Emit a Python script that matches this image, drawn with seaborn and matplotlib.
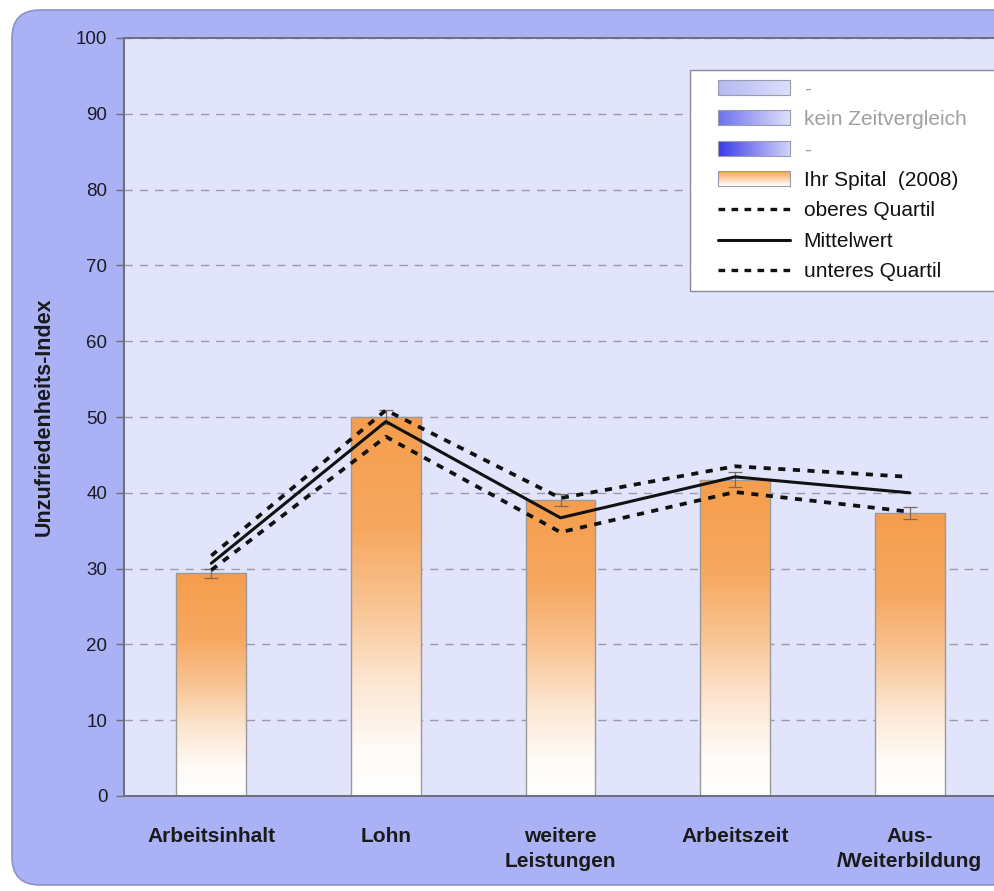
import numpy as np
import pandas as pd
import matplotlib
matplotlib.use("Agg")
import matplotlib.pyplot as plt
import seaborn as sns
from matplotlib.patches import Rectangle, FancyBboxPatch, Patch
from matplotlib.lines import Line2D
from matplotlib.legend_handler import HandlerBase
from matplotlib.colors import to_rgb

# ---------------- data ----------------
categories = ["Arbeitsinhalt", "Lohn", "weitere\nLeistungen", "Arbeitszeit", "Aus-\n/Weiterbildung"]
spital_2008 = [29.4, 50.0, 39.1, 41.7, 37.3]
spital_err = [0.6, 0.9, 0.8, 1.0, 0.8]
oberes_quartil = [31.7, 50.9, 39.3, 43.5, 42.1]
mittelwert = [30.7, 49.4, 36.7, 42.1, 40.0]
unteres_quartil = [29.8, 47.4, 34.8, 40.1, 37.5]
yticks = [0, 10, 20, 30, 40, 50, 60, 70, 80, 90, 100]
legend_labels = ["-", "kein Zeitvergleich", "-", "Ihr Spital  (2008)",
                 "oberes Quartil", "Mittelwert", "unteres Quartil"]
ylabel = "Unzufriedenheits-Index"

# ---------------- style ----------------
sns.set_theme(style="white")
plt.rcParams['font.family'] = ['Liberation Sans', 'DejaVu Sans']

PANEL = "#abb1f5"
AXBG = "#e1e4fb"
ORANGE = "#f59d4c"
WHITE = "#ffffff"

fig = plt.figure(figsize=(9.95, 8.91), dpi=100)
fig.patch.set_facecolor("white")

panel = FancyBboxPatch((0.12, 0.06), 10.5, 8.75,
                       boxstyle="round,pad=0,rounding_size=0.28",
                       transform=fig.dpi_scale_trans,
                       facecolor=PANEL, edgecolor="#8d92c8", linewidth=1.2, zorder=-5)
fig.patches.append(panel)

ax = fig.add_axes([124 / 995, 1 - 796 / 891, 873 / 995, (796 - 38) / 891])
ax.set_zorder(1)
ax.set_facecolor(AXBG)

df = pd.DataFrame({"cat": categories, "val": spital_2008})
sns.barplot(data=df, x="cat", y="val", ax=ax, width=0.4, color=ORANGE,
            edgecolor="#9a9a9a", linewidth=1.0, zorder=2)

# gradient fill for each bar
c_top = np.array(to_rgb(ORANGE))
c_bot = np.array(to_rgb(WHITE))
tt = np.linspace(0, 1, 256)
f = np.interp(tt, [0, 0.12, 0.3, 0.5, 0.7, 1.0], [0, 0.04, 0.25, 0.6, 0.88, 1.0])
img = c_bot[None, None, :] + (c_top - c_bot)[None, None, :] * f[:, None, None]
for p in list(ax.patches):
    x0, y0 = p.get_x(), p.get_y()
    w, h = p.get_width(), p.get_height()
    p.set_facecolor("none")
    im = ax.imshow(img, extent=[x0, x0 + w, y0, y0 + h], origin="lower",
                   aspect="auto", zorder=1.9, interpolation="bilinear")
    im.set_clip_path(p)

xpos = np.arange(len(categories))
ax.errorbar(xpos, spital_2008, yerr=spital_err, fmt="none", ecolor="#7a6a60",
            elinewidth=0.9, capsize=5, capthick=0.9, zorder=3)

dash = (1.9, 2.0)
sns.lineplot(x=xpos, y=oberes_quartil, ax=ax, color="#111111", linewidth=2.7, zorder=4)
ax.lines[-1].set_dashes(dash)
sns.lineplot(x=xpos, y=mittelwert, ax=ax, color="#111111", linewidth=2.2, zorder=4)
sns.lineplot(x=xpos, y=unteres_quartil, ax=ax, color="#111111", linewidth=2.7, zorder=4)
ax.lines[-1].set_dashes(dash)

ax.set_xlim(-0.5, len(categories) - 0.5)
ax.set_ylim(0, 100)
ax.set_yticks(yticks)
ax.set_yticklabels([str(v) for v in yticks], fontsize=13.5, color="#1a1a24")
ax.set_xticks(xpos)
ax.set_xticklabels(categories, fontsize=15, fontweight="bold", color="#1a1a1a",
                   linespacing=1.45)
ax.set_xticks(np.arange(-0.5, len(categories)), minor=True)
ax.tick_params(axis="x", which="major", length=0, pad=22)
ax.tick_params(axis="x", which="minor", length=6, color="#707070", width=1, direction="out")
ax.tick_params(axis="y", length=6, color="#707070", width=1, direction="out", pad=6, left=True)
ax.set_xlabel("")
ax.set_ylabel(ylabel, fontsize=15.5, fontweight="bold", color="#1a1a1a", labelpad=15)

ax.yaxis.grid(True, linestyle=(0, (6, 5)), color="#9a9aa8", linewidth=1.0)
ax.set_axisbelow(True)
for s in ["left", "bottom", "top"]:
    ax.spines[s].set_visible(True)
    ax.spines[s].set_color("#6e6e78")
    ax.spines[s].set_linewidth(1.4)
ax.spines["right"].set_visible(False)


# ---------------- legend ----------------
LEAD = 0.205  # fraction of handle box left empty


class GradHandler(HandlerBase):
    def __init__(self, c0, c1, vertical=False, n=40):
        super().__init__()
        self.c0 = np.array(to_rgb(c0))
        self.c1 = np.array(to_rgb(c1))
        self.vertical = vertical
        self.n = n

    def create_artists(self, legend, orig_handle, xdescent, ydescent, width, height,
                       fontsize, trans):
        arts = []
        n = self.n
        x0 = -xdescent + width * LEAD
        w = width * (1 - LEAD)
        for i in range(n):
            t = i / (n - 1)
            col = self.c0 + (self.c1 - self.c0) * t
            if self.vertical:
                r = Rectangle((x0, -ydescent + height * (1 - (i + 1) / n)),
                              w, height / n + 0.3, facecolor=col, edgecolor="none",
                              transform=trans)
            else:
                r = Rectangle((x0 + w * i / n, -ydescent), w / n + 0.3,
                              height, facecolor=col, edgecolor="none", transform=trans)
            arts.append(r)
        arts.append(Rectangle((x0, -ydescent), w, height, facecolor="none",
                              edgecolor="#9a9ab0", linewidth=0.8, transform=trans))
        return arts


class LineHandler(HandlerBase):
    def __init__(self, lw, dashes=None):
        super().__init__()
        self.lw = lw
        self.dashes = dashes

    def create_artists(self, legend, orig_handle, xdescent, ydescent, width, height,
                       fontsize, trans):
        x0 = -xdescent + width * LEAD
        y = -ydescent + height / 2
        ln = Line2D([x0, -xdescent + width], [y, y], color="#111111", linewidth=self.lw,
                    transform=trans)
        if self.dashes is not None:
            ln.set_dashes(self.dashes)
        return [ln]


h1, h2, h3, h4 = Patch(), Patch(), Patch(), Patch()
h5, h6, h7 = Line2D([], []), Line2D([], []), Line2D([], [])
hmap = {
    h1: GradHandler("#b4b8f3", "#dcdefa"),
    h2: GradHandler("#6e72ec", "#dcdefa"),
    h3: GradHandler("#3b3ce6", "#cfd2f9"),
    h4: GradHandler(ORANGE, "#ffffff", vertical=True),
    h5: LineHandler(2.4, (2.0, 1.9)),
    h6: LineHandler(2.2),
    h7: LineHandler(2.4, (2.0, 1.9)),
}
leg = fig.legend([h1, h2, h3, h4, h5, h6, h7], legend_labels, handler_map=hmap,
                 loc="upper left", bbox_to_anchor=(690 / 995, 1 - 290 / 891, 320 / 995, 220 / 891),
                 mode="expand",
                 fontsize=15, frameon=True, fancybox=False, framealpha=1,
                 edgecolor="#8c8c96", facecolor="white", handlelength=4.35,
                 handleheight=0.72, handletextpad=0.65, labelspacing=0.55,
                 borderpad=0.46, borderaxespad=0)
leg.set_zorder(10)
leg.get_frame().set_linewidth(1.0)
texts = leg.get_texts()
for i in (0, 1, 2):
    texts[i].set_color("#a0a0a0")
for i in (3, 4, 5, 6):
    texts[i].set_color("#111111")

fig.savefig("out.png", dpi=100)
